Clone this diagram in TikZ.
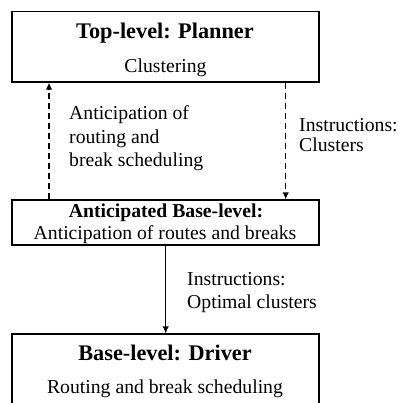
\documentclass[tikz,border=0pt]{standalone}
\usepackage{fontspec}
\setmainfont{Liberation Serif}
\usetikzlibrary{arrows.meta}
\begin{document}
\begin{tikzpicture}[x=1pt,y=-1pt,
  box/.style={draw,line width=1.2pt,rectangle,inner sep=0pt},
  ttl/.style={font=\fontsize{22.3}{26}\selectfont\bfseries,anchor=base,inner sep=0pt},
  sub/.style={font=\fontsize{19.7}{24}\selectfont,anchor=base,inner sep=0pt},
  bsub/.style={font=\fontsize{19.7}{24}\selectfont\bfseries,anchor=base,inner sep=0pt},
  lbl/.style={font=\fontsize{19.7}{24}\selectfont,anchor=base west,inner sep=0pt},
  arr/.style={line width=1.5pt,-{Latex[length=7pt,width=6.5pt]}},
  dsh/.style={arr,dash pattern=on 6pt off 4pt}]
\useasboundingbox (0,0) rectangle (397,403);
\clip (0,0) rectangle (397,403);
% boxes
\node[box,minimum width=307pt,minimum height=70.5pt] (top) at (165.5,46.75) {};
\node[box,minimum width=307pt,minimum height=45pt] (mid) at (165.5,222.5) {};
\node[box,minimum width=307pt,minimum height=80pt] (bot) at (165.5,374) {};
% box texts
\node[ttl] (t1) at (165,38.3) {Top-level: Planner};
\node[sub] (t2) at (165.5,72.7) {Clustering};
\node[bsub] (m1) at (166,217) {Anticipated Base-level:};
\node[sub] (m2) at (165,239) {Anticipation of routes and breaks};
\node[ttl] (b1) at (165,360) {Base-level: Driver};
\node[sub] (b2) at (165,393) {Routing and break scheduling};
% labels
\node[lbl] (l1) at (69,119.5) {Anticipation of};
\node[lbl] (l2) at (69,143.5) {routing and};
\node[lbl] (l3) at (69,167) {break scheduling};
\node[lbl] (r1) at (299,131.7) {Instructions:};
\node[lbl] (r2) at (299,151.7) {Clusters};
\node[lbl] (s1) at (187,285) {Instructions:};
\node[lbl] (s2) at (187,308) {Optimal clusters};
% connectors
\coordinate (la) at (49,0);
\coordinate (ra) at (285.7,0);
\coordinate (ca) at (165.7,0);
\draw[dsh] (la |- mid.north) -- (la |- top.south);
\draw[dsh] (ra |- top.south) -- (ra |- mid.north);
\draw[arr] (ca |- mid.south) -- (ca |- bot.north);
\end{tikzpicture}
\end{document}
